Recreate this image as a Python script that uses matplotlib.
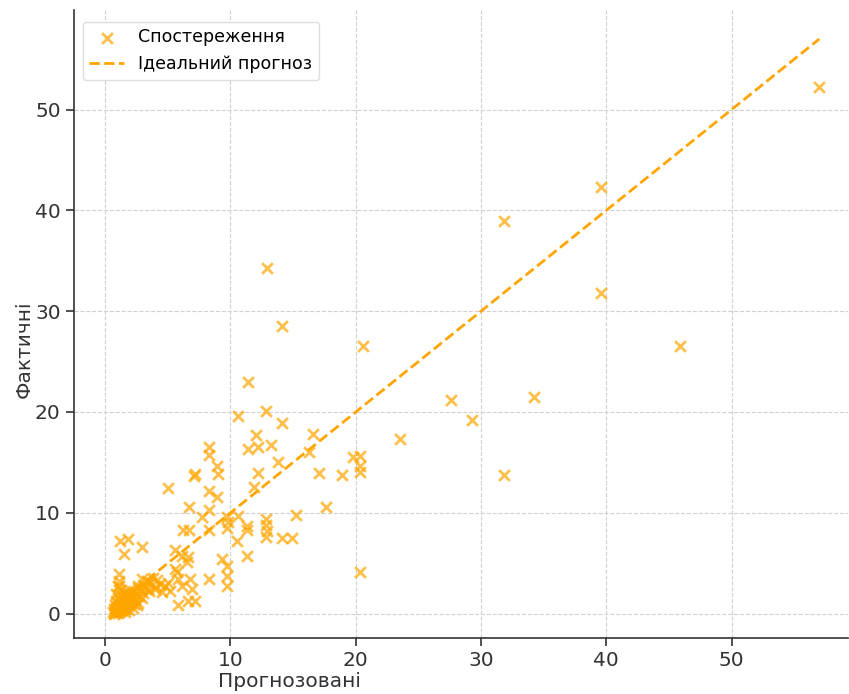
import matplotlib.pyplot as plt

predicted = [
    57.0, 39.6, 39.6, 31.8, 45.9, 34.2, 27.6, 29.3, 31.8, 23.5,
    20.6, 12.9, 14.1, 11.4, 10.6, 12.8, 14.1, 12.0, 16.6, 16.3,
    11.4, 12.2, 13.2, 13.8, 12.2, 11.9, 17.1, 18.9, 17.6, 19.8,
    20.3, 20.3, 20.3, 20.3, 15.2, 14.1, 14.9, 12.8, 12.8, 12.9,
    12.8, 11.3, 11.3, 10.6, 9.8, 10.5, 11.3, 8.3, 8.3, 8.9,
    9.0, 7.2, 7.1, 5.0, 8.3, 8.9, 6.7, 8.3, 7.7, 8.3,
    6.2, 6.7, 9.7, 9.7, 9.3, 9.7, 9.7, 9.7, 8.3, 5.6,
    6.1, 6.6, 6.5, 5.7, 5.6, 5.8, 6.1, 6.8, 6.9, 5.8,
    6.6, 7.2, 4.0, 4.5, 3.4, 2.9, 2.6, 1.2, 1.8, 2.9,
    1.5, 1.1, 1.1, 1.0,
    # dense cluster near the origin
    0.6, 0.7, 0.8, 0.8, 0.9, 0.9, 1.0, 1.0, 1.0, 1.1,
    1.1, 1.2, 1.2, 1.3, 1.3, 1.4, 1.4, 1.5, 1.5, 1.5,
    1.6, 1.6, 1.7, 1.7, 1.8, 1.8, 1.9, 1.9, 2.0, 2.0,
    2.1, 2.1, 2.2, 2.3, 2.4, 2.5, 2.6, 2.7, 2.8, 3.0,
    3.0, 3.2, 3.3, 3.5, 3.6, 3.8, 4.0, 4.1, 4.4, 4.8,
    5.0, 5.2, 1.2, 0.9, 1.1, 1.0, 1.3, 2.5, 2.2, 0.7,
    1.4, 1.6, 2.3, 2.9, 3.4, 0.8, 1.9, 2.6,
]
actual = [
    52.2, 42.3, 31.8, 38.9, 26.5, 21.5, 21.2, 19.2, 13.7, 17.3,
    26.5, 34.3, 28.5, 23.0, 19.6, 20.1, 18.9, 17.7, 17.8, 16.0,
    16.3, 16.5, 16.7, 15.0, 13.9, 12.6, 13.9, 13.7, 10.6, 15.5,
    15.6, 14.6, 14.0, 4.1, 9.8, 7.5, 7.5, 9.4, 8.8, 8.2,
    7.6, 8.7, 8.3, 9.7, 9.1, 7.2, 5.7, 16.5, 15.7, 14.6,
    13.8, 13.8, 13.6, 12.5, 12.2, 11.6, 10.6, 10.3, 9.6, 8.3,
    8.3, 8.3, 9.6, 8.5, 5.4, 4.7, 3.7, 2.7, 3.4, 6.3,
    5.7, 5.6, 5.1, 4.1, 4.4, 3.4, 2.7, 3.4, 2.4, 0.9,
    1.2, 1.2, 2.4, 2.1, 3.1, 3.4, 2.7, 7.2, 7.4, 6.6,
    5.9, 3.9, 3.2, 2.7,
    0.2, 0.5, 0.3, 0.9, 0.6, 1.2, 0.4, 0.8, 1.5, 0.2,
    1.0, 0.6, 1.3, 0.9, 1.8, 0.4, 1.1, 0.7, 1.5, 2.0,
    1.0, 1.3, 0.5, 1.7, 1.2, 2.1, 0.9, 1.6, 1.4, 2.3,
    1.1, 1.9, 1.6, 2.2, 1.3, 1.9, 2.5, 1.7, 2.3, 2.0,
    2.8, 2.5, 3.2, 2.2, 3.0, 3.5, 2.6, 3.3, 2.9, 2.7,
    3.0, 2.2, 2.3, 1.9, 2.7, 0.1, 0.3, 0.9, 0.6, 0.0,
    0.6, 0.2, 1.0, 1.5, 2.4, 0.1, 0.4, 1.1,
]

fig = plt.figure(figsize=(8.49, 6.94), dpi=100)
ax = fig.add_axes([0.087, 0.081, 0.912, 0.905])

ax.scatter(predicted, actual, marker="x", color="orange", alpha=0.7, s=60,
           linewidths=2, label="Спостереження", zorder=3)
lo, hi = min(predicted), max(predicted)
ax.plot([lo, hi], [lo, hi], "--", color="orange", linewidth=2,
        label="Ідеальний прогноз", zorder=2)

ax.set_xlim(-2.5, 59.3)
ax.set_ylim(-2.4, 59.9)
ax.set_xticks([0, 10, 20, 30, 40, 50])
ax.set_yticks([0, 10, 20, 30, 40, 50])
ax.grid(True, linestyle="--", color="#d0d0d0", linewidth=0.8)
ax.set_axisbelow(True)

for side in ["top", "right"]:
    ax.spines[side].set_visible(False)
for side in ["left", "bottom"]:
    ax.spines[side].set_color("#333333")
    ax.spines[side].set_linewidth(1.2)
ax.tick_params(labelsize=14.5, colors="#333333", length=6, width=1.2)

ax.set_xlabel("Прогнозовані", fontsize=14.5, color="#333333")
ax.set_ylabel("Фактичні", fontsize=14.5, color="#333333")
ax.xaxis.set_label_coords(0.279, -0.055)
ax.yaxis.set_label_coords(-0.052, 0.459)

ax.legend(loc="upper left", fontsize=12.5, bbox_to_anchor=(0.0, 0.995),
          framealpha=1, edgecolor="#dddddd")

plt.savefig("out.png")
